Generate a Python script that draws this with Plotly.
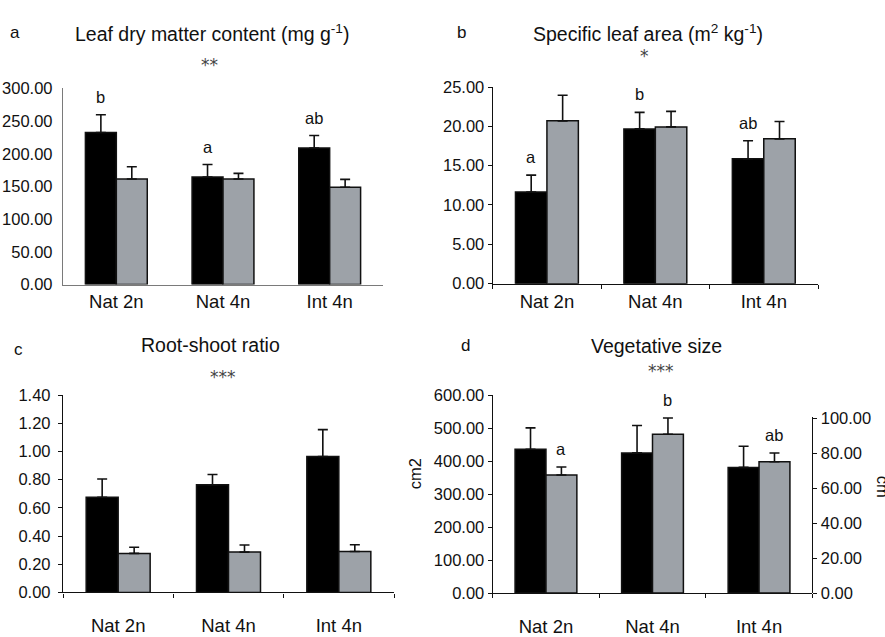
import plotly.graph_objects as go

W, H = 885, 637

# ---- data -------------------------------------------------------------
groups = ["Nat 2n", "Nat 4n", "Int 4n"]

# (a) Leaf dry matter content (mg g-1)
ldmc_black = [232.5, 164.5, 208.8]
ldmc_black_err = [27.0, 19.0, 19.0]
ldmc_grey = [161.5, 161.5, 148.8]
ldmc_grey_err = [18.5, 8.5, 12.0]
ldmc_letters = ["b", "a", "ab"]

# (b) Specific leaf area (m2 kg-1)
sla_black = [11.65, 19.68, 15.87]
sla_black_err = [2.15, 2.1, 2.3]
sla_grey = [20.7, 19.93, 18.41]
sla_grey_err = [3.25, 1.97, 2.2]
sla_letters = ["a", "b", "ab"]

# (c) Root-shoot ratio
rs_black = [0.675, 0.764, 0.965]
rs_black_err = [0.13, 0.073, 0.19]
rs_grey = [0.277, 0.286, 0.29]
rs_grey_err = [0.043, 0.05, 0.048]

# (d) Vegetative size: black = area (cm2, left axis), grey = height (cm, right axis)
veg_area = [435.8, 425.0, 381.0]
veg_area_err = [65.0, 83.0, 64.0]
veg_height = [67.6, 90.9, 75.2]
veg_height_err = [4.6, 9.3, 5.0]
veg_letters = ["a", "b", "ab"]

BLACK = "#000000"
GREY = "#9da2a8"
FONT = "Liberation Sans, Arial, sans-serif"
STAR_FONT = "DejaVu Sans, sans-serif"


def px_x(p):
    return p / W


def px_y(p):
    return 1 - p / H


fig = go.Figure()

BW = 0.29  # single bar width in category units


def add_pair(black, black_err, grey, grey_err, xa, ya_black, ya_grey):
    for vals, errs, color, off, ya in (
        (black, black_err, BLACK, -BW, ya_black),
        (grey, grey_err, GREY, 0.0, ya_grey),
    ):
        fig.add_trace(go.Bar(
            x=groups, y=vals, width=BW, offset=off,
            marker=dict(color=color, line=dict(color="#111111", width=1.5)),
            error_y=dict(type="data", array=errs, arrayminus=[0] * len(errs),
                         symmetric=False, color="#111111", thickness=1.6, width=5),
            xaxis=xa, yaxis=ya, showlegend=False, cliponaxis=False,
        ))


add_pair(ldmc_black, ldmc_black_err, ldmc_grey, ldmc_grey_err, "x", "y", "y")
add_pair(sla_black, sla_black_err, sla_grey, sla_grey_err, "x2", "y2", "y2")
add_pair(rs_black, rs_black_err, rs_grey, rs_grey_err, "x3", "y3", "y3")
add_pair(veg_area, veg_area_err, veg_height, veg_height_err, "x4", "y4", "y5")


def xaxis(dom, anchor, ticks, color, standoff):
    return dict(
        domain=[px_x(dom[0]), px_x(dom[1])], anchor=anchor,
        type="category", range=[-0.5, 2.5],
        showline=True, linecolor=color, linewidth=1.3,
        ticks=ticks, tickson="boundaries", ticklen=4, tickcolor=color, tickwidth=1.3,
        tickfont=dict(family=FONT, size=18.5, color="#111111"),
        ticklabelstandoff=standoff,
        showgrid=False, zeroline=False, fixedrange=True,
    )


def yaxis(dom, anchor, rng, dtick, ticks, color, standoff, side="left"):
    return dict(
        domain=[px_y(dom[1]), px_y(dom[0])], anchor=anchor, side=side,
        range=rng, tickmode="linear", tick0=0, dtick=dtick, tickformat=".2f",
        showline=True, linecolor=color, linewidth=1.3,
        ticks=ticks, ticklen=4, tickcolor=color, tickwidth=1.3,
        tickfont=dict(family=FONT, size=16.5, color="#111111"),
        ticklabelstandoff=standoff,
        showgrid=False, zeroline=False, fixedrange=True,
    )


# right-hand (cm) axis of panel d: 0 at the common baseline, 100 at y=423.3 px
cm_px = (604 - 423.3) / 100
cm_top = 101

fig.update_layout(
    width=W, height=H, autosize=False,
    margin=dict(l=0, r=0, t=0, b=0),
    paper_bgcolor="white", plot_bgcolor="rgba(0,0,0,0)",
    font=dict(family=FONT, color="#111111"),
    barmode="overlay",
    xaxis=xaxis((63, 383), "y", "", "#7a7a7a", 0),
    yaxis=yaxis((82, 285), "x", [0, 300], 50, "", "#7a7a7a", 6),
    xaxis2=xaxis((492.7, 818), "y2", "outside", "#111111", 1),
    yaxis2=yaxis((80.7, 284), "x2", [0, 25], 5, "outside", "#111111", 0),
    xaxis3=xaxis((63, 394), "y3", "outside", "#111111", 16),
    yaxis3=yaxis((399.3, 603.3), "x3", [0, 1.4], 0.2, "outside", "#111111", 4),
    xaxis4=xaxis((492.7, 812.3), "y4", "outside", "#111111", 17),
    yaxis4=yaxis((399.3, 604), "x4", [0, 600], 100, "outside", "#111111", 0),
    yaxis5=yaxis((604 - cm_top * cm_px, 604), "x4", [0, cm_top], 20, "outside",
                 "#111111", 0, side="right"),
)
fig.layout.yaxis5.tickmode = "array"
fig.layout.yaxis5.tickvals = [0, 20, 40, 60, 80, 100]

ann = []


def text(x, y, s, size=19.5, color="#111111", angle=0, family=FONT):
    ann.append(dict(x=px_x(x), y=px_y(y), xref="paper", yref="paper", text=s,
                    showarrow=False, textangle=angle, xanchor="center", yanchor="middle",
                    font=dict(family=family, size=size, color=color)))


# panel letters and titles
text(15, 24, "a", 17)
text(212, 25, "Leaf dry matter content (mg g<sup>-1</sup>)")
text(461, 24, "b", 17)
text(648, 25, "Specific leaf area (m<sup>2</sup> kg<sup>-1</sup>)")
text(18, 352, "c", 17)
text(210, 347, "Root-shoot ratio")
text(465, 348, "d", 17)
text(656, 348, "Vegetative size")

# significance stars
text(209, 58, "**", 17, "#444444", family=STAR_FONT)
text(644, 49, "*", 17, "#444444", family=STAR_FONT)
text(223, 381, "***", 17, "#444444", family=STAR_FONT)
text(661, 374, "***", 17, "#444444", family=STAR_FONT)

# axis titles for panel d
text(415, 481, "cm2", 16.5, "#111111", -90)
text(883, 494, "cm", 16.5, "#111111", 90)


def letters(labels, vals, errs, xa, ya, side):
    shift = -BW / 2 if side == "black" else BW / 2
    for i, (lab, v, e) in enumerate(zip(labels, vals, errs)):
        ann.append(dict(x=i + shift, y=v + e, xref=xa, yref=ya, text=lab,
                        showarrow=False, yanchor="bottom", yshift=7,
                        font=dict(family=FONT, size=16.5, color="#111111")))


letters(ldmc_letters, ldmc_black, ldmc_black_err, "x", "y", "black")
letters(sla_letters, sla_black, sla_black_err, "x2", "y2", "black")
letters(veg_letters, veg_height, veg_height_err, "x4", "y5", "grey")

fig.update_layout(annotations=ann)

fig.write_html("out.html")
